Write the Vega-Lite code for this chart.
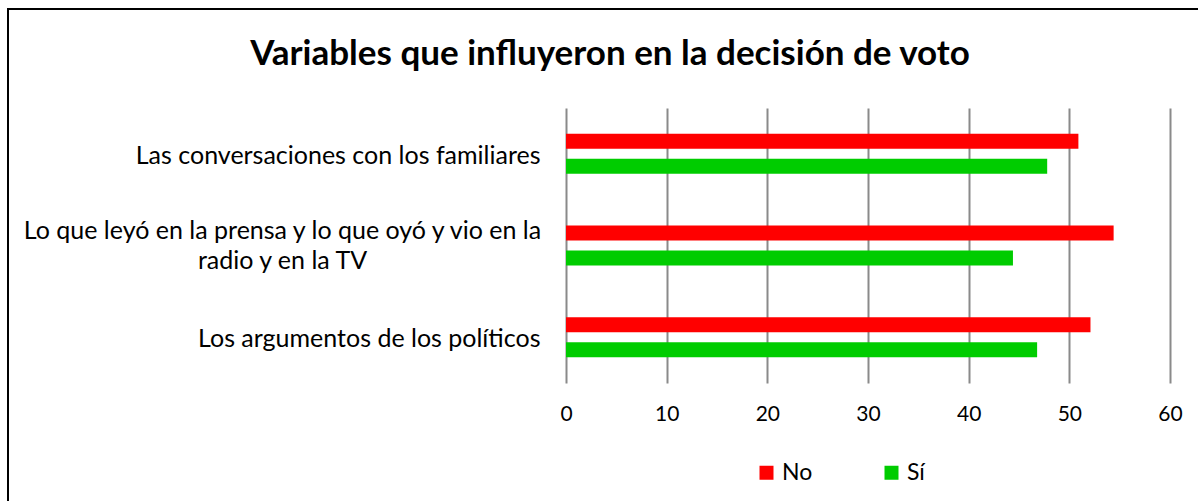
{
  "$schema": "https://vega.github.io/schema/vega-lite/v6.json",
  "width": 1192,
  "height": 494,
  "autosize": {"type": "none"},
  "padding": {"left": 8, "top": 9, "right": 0, "bottom": 0},
  "background": "white",
  "title": {
    "text": "Variables que influyeron en la decisión de voto",
    "font": "Lato",
    "fontSize": 35,
    "fontWeight": "bold",
    "color": "black",
    "anchor": "middle",
    "frame": "group",
    "baseline": "alphabetic",
    "offset": 0,
    "dy": 91,
    "dx": 6
  },
  "data": {
    "values": [
      {"variable": "Las conversaciones con los familiares", "respuesta": "No", "valor": 50.9},
      {"variable": "Las conversaciones con los familiares", "respuesta": "Sí", "valor": 47.8},
      {"variable": "Lo que leyó en la prensa y lo que oyó y vio en la radio y en la TV", "respuesta": "No", "valor": 54.4},
      {"variable": "Lo que leyó en la prensa y lo que oyó y vio en la radio y en la TV", "respuesta": "Sí", "valor": 44.4},
      {"variable": "Los argumentos de los políticos", "respuesta": "No", "valor": 52.1},
      {"variable": "Los argumentos de los políticos", "respuesta": "Sí", "valor": 46.8}
    ]
  },
  "mark": {"type": "bar"},
  "encoding": {
    "y": {
      "field": "variable",
      "type": "nominal",
      "sort": [
        "Las conversaciones con los familiares",
        "Lo que leyó en la prensa y lo que oyó y vio en la radio y en la TV",
        "Los argumentos de los políticos"
      ],
      "scale": {"range": [99, 374], "paddingInner": 0.564, "paddingOuter": 0.282},
      "axis": {
        "title": null,
        "orient": "left",
        "offset": -558,
        "domain": false,
        "ticks": false,
        "grid": false,
        "labelFont": "Lato",
        "labelFontSize": 25,
        "labelColor": "black",
        "labelLimit": 0,
        "labelLineHeight": 30,
        "labelExpr": "datum.value == 'Lo que leyó en la prensa y lo que oyó y vio en la radio y en la TV' ? ['Lo que leyó en la prensa y lo que oyó y vio en la', 'radio y en la TV'] : datum.value",
        "labelAlign": {
          "condition": {"test": "datum.value == 'Lo que leyó en la prensa y lo que oyó y vio en la radio y en la TV'", "value": "center"},
          "value": "right"
        },
        "labelPadding": {
          "condition": {"test": "datum.value == 'Lo que leyó en la prensa y lo que oyó y vio en la radio y en la TV'", "value": 284},
          "value": 26
        },
        "labelOffset": {
          "condition": {"test": "datum.value == 'Lo que leyó en la prensa y lo que oyó y vio en la radio y en la TV'", "value": -15},
          "value": 2
        }
      }
    },
    "yOffset": {
      "field": "respuesta",
      "type": "nominal",
      "sort": ["No", "Sí"],
      "scale": {"paddingInner": 0.4, "paddingOuter": 0}
    },
    "x": {
      "field": "valor",
      "type": "quantitative",
      "scale": {"domain": [0, 60], "range": [558, 1162], "nice": false, "zero": true},
      "axis": {
        "title": null,
        "orient": "top",
        "offset": -374,
        "values": [0, 10, 20, 30, 40, 50, 60],
        "domain": false,
        "ticks": false,
        "grid": true,
        "gridColor": "#8a8a8a",
        "gridWidth": 2,
        "labelFont": "Lato",
        "labelFontSize": 21,
        "labelColor": "black",
        "labelBaseline": "middle",
        "labelFlush": false,
        "labelPadding": -31
      }
    },
    "color": {
      "field": "respuesta",
      "type": "nominal",
      "scale": {"domain": ["No", "Sí"], "range": ["#FF0000", "#00CC00"]},
      "legend": {
        "title": null,
        "orient": "none",
        "legendX": 747,
        "legendY": 452,
        "direction": "horizontal",
        "symbolType": "square",
        "symbolSize": 196,
        "symbolStrokeWidth": 0,
        "symbolOpacity": 1,
        "labelFont": "Lato",
        "labelFontSize": 23,
        "labelColor": "black",
        "columnPadding": 67,
        "labelOffset": 4
      }
    }
  },
  "config": {
    "view": {"stroke": "black", "strokeWidth": 2},
    "bar": {"opacity": 1}
  }
}
